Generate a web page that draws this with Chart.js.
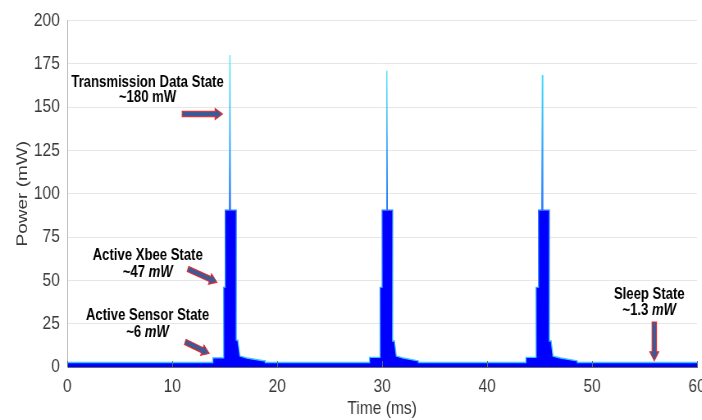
<!DOCTYPE html>
<html>
<head>
<meta charset="utf-8">
<title>Power profile</title>
<script src="https://cdn.jsdelivr.net/npm/chart.js@4/dist/chart.umd.min.js"></script>
<style>
  html, body { margin: 0; padding: 0; background: #ffffff; overflow: hidden; }
  /* the source figure is squeezed horizontally, so draw wide and squeeze */
  #wrap { width: 856px; height: 420px; transform: scaleX(0.82); transform-origin: 0 0; }
</style>
</head>
<body>
<div id="wrap"><canvas id="maingraph"></canvas></div>
<script>
// measured trace: time in ms, power in mW (vertical edges use repeated times)
const timeMs = [
  0, 13.87, 13.87, 14.9, 14.9, 15.05, 15.05, 15.45, 15.5, 15.55, 16.1, 16.1, 16.25, 16.45, 17.1, 18.7, 18.86, 18.86,
  28.8, 28.8, 29.8, 29.8, 30.0, 30.0, 30.4, 30.45, 30.5, 31.0, 31.0, 31.17, 31.35, 32.0, 33.3, 33.46, 33.46,
  43.7, 43.7, 44.67, 44.67, 44.9, 44.9, 45.21, 45.26, 45.31, 45.93, 45.93, 46.1, 46.28, 47.0, 48.45, 48.6, 48.6,
  60
];
const powerMw = [
  2.6, 2.6, 5.3, 5.3, 46, 46, 90.5, 90.5, 180, 90.5, 90.5, 15.5, 15.5, 6.3, 5.2, 3.6, 3.6, 2.6,
  2.6, 5.5, 5.5, 46, 46, 90.5, 90.5, 171, 90.5, 90.5, 15, 15, 6.3, 5.2, 3.7, 3.5, 2.6,
  2.6, 5.5, 5.5, 46, 46, 90.5, 90.5, 168.5, 90.5, 90.5, 15, 15, 6.3, 5.2, 3.7, 3.5, 2.6,
  2.6
];
const xTicks = [0, 10, 20, 30, 40, 50, 60];
const yTicks = [0, 25, 50, 75, 100, 125, 150, 175, 200];

// annotation labels: [line 1, line 2 plain part, line 2 italic part]
const noteLines = [
  ["Transmission Data State", "~180 mW", ""],
  ["Active Xbee State", "~47 ", "mW"],
  ["Active Sensor State", "~6 ", "mW"],
  ["Sleep State", "~1.3 ", "mW"]
];
const noteX = [7.65, 7.67, 7.65, 55.45];
const noteY1 = [164, 64.2, 29.8, 41.8];
const noteY2 = [155.7, 54.4, 20.1, 32.7];
// arrows: tail -> head, in axis units
const arrowX0 = [10.95, 11.5, 11.24, 55.93];
const arrowY0 = [146, 56.6, 14.5, 26];
const arrowX1 = [14.79, 14.26, 13.52, 55.93];
const arrowY1 = [146, 48.9, 7.8, 3.6];

const sans = "'Liberation Sans', Arial, sans-serif";

const points = timeMs.map(function (t, i) { return { x: t, y: powerMw[i] }; });

function edgeColor(context) {
  const chart = context.chart;
  if (!chart.chartArea) return "#1a8cff";
  const y = chart.scales.y;
  const g = chart.ctx.createLinearGradient(0, y.getPixelForValue(0), 0, y.getPixelForValue(180));
  g.addColorStop(0, "#3cc8ff");
  g.addColorStop(0.5, "#2a78ff");
  g.addColorStop(1, "#44eaf8");
  return g;
}

function drawArrow(ctx, x0, y0, x1, y1) {
  const dx = x1 - x0, dy = y1 - y0;
  const len = Math.sqrt(dx * dx + dy * dy);
  const ux = dx / len, uy = dy / len;
  const nx = -uy, ny = ux;
  const body = 2.7, head = 5.5, headLen = 9;
  const bx = x1 - ux * headLen, by = y1 - uy * headLen;
  ctx.beginPath();
  ctx.moveTo(x0 + nx * body, y0 + ny * body);
  ctx.lineTo(bx + nx * body, by + ny * body);
  ctx.lineTo(bx + nx * head, by + ny * head);
  ctx.lineTo(x1, y1);
  ctx.lineTo(bx - nx * head, by - ny * head);
  ctx.lineTo(bx - nx * body, by - ny * body);
  ctx.lineTo(x0 - nx * body, y0 - ny * body);
  ctx.closePath();
  ctx.fillStyle = "#3d5a96";
  ctx.fill();
  ctx.strokeStyle = "#e82a2a";
  ctx.lineWidth = 1.1;
  ctx.stroke();
}

const notesPlugin = {
  id: "notes",
  afterDatasetsDraw: function (chart) {
    const ctx = chart.ctx;
    const xs = chart.scales.x, ys = chart.scales.y;
    const area = chart.chartArea;
    ctx.save();
    // small inward tick marks on the time axis
    ctx.strokeStyle = "#6a6a6a";
    ctx.lineWidth = 1;
    xTicks.forEach(function (v) {
      const px = Math.round(xs.getPixelForValue(v)) + 0.5;
      ctx.beginPath();
      ctx.moveTo(px, area.bottom);
      ctx.lineTo(px, area.bottom - 6);
      ctx.stroke();
    });
    ctx.textBaseline = "middle";
    ctx.fillStyle = "#000000";
    const plainFont = "bold 16px " + sans;
    const italFont = "italic bold 16px " + sans;
    for (let i = 0; i < noteLines.length; i++) {
      const cx = xs.getPixelForValue(noteX[i]);
      ctx.font = plainFont;
      ctx.textAlign = "center";
      ctx.fillText(noteLines[i][0], cx, ys.getPixelForValue(noteY1[i]));
      // second line: plain part + italic unit
      const w1 = ctx.measureText(noteLines[i][1]).width;
      ctx.font = italFont;
      const w2 = ctx.measureText(noteLines[i][2]).width;
      const start = cx - (w1 + w2) / 2;
      const y2 = ys.getPixelForValue(noteY2[i]);
      ctx.textAlign = "left";
      ctx.font = plainFont;
      ctx.fillText(noteLines[i][1], start, y2);
      ctx.font = italFont;
      ctx.fillText(noteLines[i][2], start + w1, y2);
    }
    for (let i = 0; i < arrowX0.length; i++) {
      drawArrow(ctx,
        xs.getPixelForValue(arrowX0[i]), ys.getPixelForValue(arrowY0[i]),
        xs.getPixelForValue(arrowX1[i]), ys.getPixelForValue(arrowY1[i]));
    }
    ctx.restore();
  }
};

const ctx = document.getElementById("maingraph");

new Chart(ctx, {
  type: "line",
  data: {
    datasets: [
      {
        label: "Power",
        data: points,
        borderColor: edgeColor,
        borderWidth: 1.3,
        backgroundColor: "#0000ff",
        fill: "origin",
        pointRadius: 0,
        tension: 0,
      },
    ],
  },
  options: {
    responsive: true,
    maintainAspectRatio: false,
    animation: false,
    layout: { padding: { top: 18, right: 6, left: 0, bottom: 0 } },
    plugins: {
      legend: { display: false },
      tooltip: { enabled: false },
    },
    scales: {
      x: {
        type: "linear",
        min: 0,
        max: 60,
        afterBuildTicks: function (axis) {
          axis.ticks = xTicks.map(function (v) { return { value: v }; });
        },
        afterFit: function (axis) {
          axis.height = 53;
          axis.paddingRight = 0;
          axis.paddingLeft = 0;
        },
        grid: { display: false, drawTicks: false },
        border: { display: true, color: "#6a6a6a", width: 1 },
        ticks: { color: "#383838", font: { family: sans, size: 19 }, padding: 8, maxRotation: 0 },
        title: {
          display: true,
          text: "Time (ms)",
          color: "#383838",
          font: { family: sans, size: 19 },
          padding: { top: 0, bottom: 0 },
        },
      },
      y: {
        min: 0,
        max: 200,
        afterBuildTicks: function (axis) {
          axis.ticks = yTicks.map(function (v) { return { value: v }; });
        },
        afterFit: function (axis) {
          axis.width = 82;
        },
        grid: { color: "#e6e6e6", lineWidth: 1, drawTicks: false },
        border: { display: true, color: "#b4b4b4", width: 1 },
        ticks: { color: "#383838", font: { family: sans, size: 19 }, padding: 9 },
        title: {
          display: true,
          text: "Power (mW)",
          color: "#383838",
          font: { family: sans, size: 19 },
          padding: { top: 16, bottom: 0 },
        },
      },
    },
  },
  plugins: [notesPlugin],
});
</script>
</body>
</html>
